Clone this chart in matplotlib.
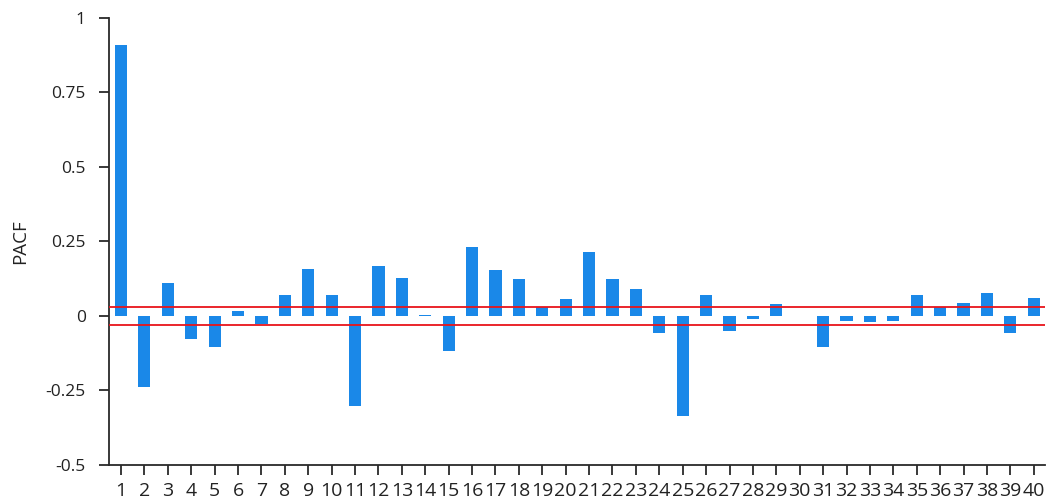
import numpy as np
import matplotlib.pyplot as plt

plt.rcParams['font.family'] = ['Open Sans', 'DejaVu Sans']

# partial autocorrelation by lag
lags = list(range(1, 41))
pacf = [0.907, -0.238, 0.111, -0.079, -0.104, 0.015, -0.028, 0.069, 0.156, 0.069,
        -0.304, 0.168, 0.126, 0.003, -0.119, 0.229, 0.153, 0.122, 0.031, 0.056,
        0.214, 0.122, 0.090, -0.058, -0.335, 0.069, -0.052, -0.011, 0.039, 0.0,
        -0.104, -0.017, -0.022, -0.017, 0.069, 0.031, 0.044, 0.075, -0.058, 0.059]
conf = 0.031  # 95% band

fig = plt.figure(figsize=(10.46, 5.01), dpi=100)
ax = fig.add_axes([0.1045, 0.072, 0.895, 0.893])

ax.bar(lags, pacf, width=0.52, color='#1a88e8', zorder=2)
ax.axhline(conf, color='#e8141a', lw=1.3, zorder=3)
ax.axhline(-conf, color='#e8141a', lw=1.3, zorder=3)

ax.set_xlim(0.5, 40.5)
ax.set_ylim(-0.5, 1)
ax.set_xticks(lags)
ax.set_xticklabels([str(l) for l in lags])
ax.set_yticks([-0.5, -0.25, 0, 0.25, 0.5, 0.75, 1])
ax.set_yticklabels(['-0.5', '-0.25', '0', '0.25', '0.5', '0.75', '1'])
ax.set_ylabel('PACF', fontsize=13.5, color='#222222', labelpad=12)

for s in ['top', 'right']:
    ax.spines[s].set_visible(False)
for s in ['left', 'bottom']:
    ax.spines[s].set_color('#2a2a2a')
    ax.spines[s].set_linewidth(1.3)
ax.tick_params(axis='both', colors='#2a2a2a', labelcolor='#222222',
               length=7, width=1.3)
ax.tick_params(axis='x', labelsize=14, pad=5.5)
ax.tick_params(axis='y', labelsize=12.5, pad=10)

fig.savefig('out.png', dpi=100)
